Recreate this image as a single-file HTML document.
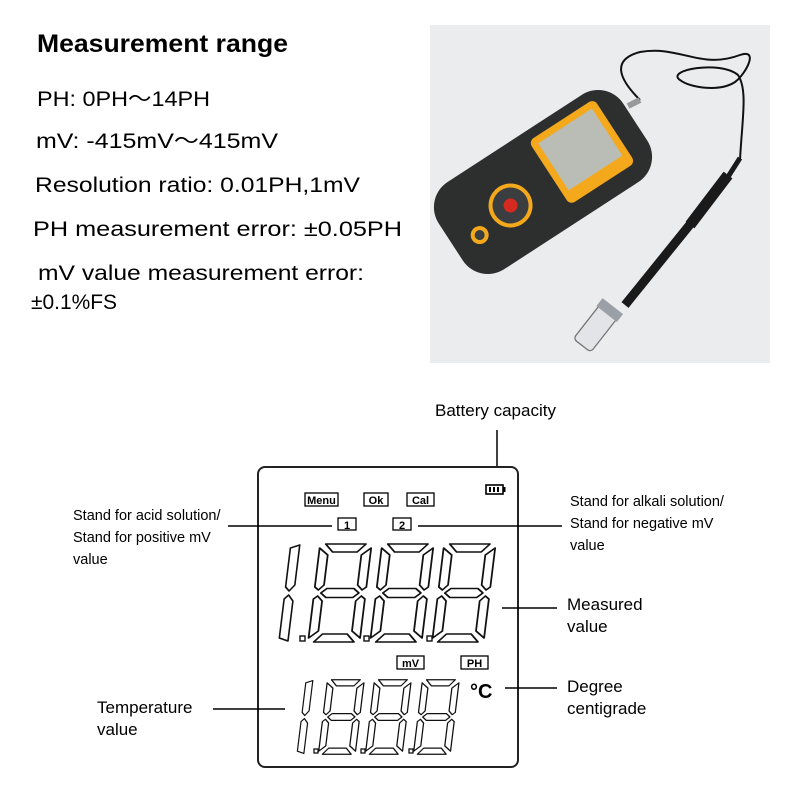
<!DOCTYPE html>
<html><head><meta charset="utf-8"><style>html,body{margin:0;padding:0;background:#fff}svg{display:block}</style></head>
<body>
<svg width="800" height="800" viewBox="0 0 800 800" xmlns="http://www.w3.org/2000/svg" font-family="Liberation Sans, Arial, sans-serif">
<defs>
<g id="dg" fill="#fff" stroke="#111" stroke-width="1.6" stroke-linejoin="round">
<polygon points="7,1 43,1 36,9 14,9"/>
<polygon points="7,99 43,99 36,91 14,91"/>
<polygon points="8,50 13,45.5 37,45.5 42,50 37,54.5 13,54.5"/>
<polygon points="2,5 10,12 10,42 5.5,47 2,44"/>
<polygon points="48,5 40,12 40,42 44.5,47 48,44"/>
<polygon points="2,56 5.5,53 10,58 10,88 2,95"/>
<polygon points="48,56 44.5,53 40,58 40,88 48,95"/>
</g>
<g id="one" fill="#fff" stroke="#111" stroke-width="1.6" stroke-linejoin="round">
<polygon points="3,5 12,2 12,42 7,48 3,44"/>
<polygon points="3,56 7,52 12,58 12,98 3,95"/>
</g>
</defs>

<text x="37" y="52" font-size="25" font-weight="bold" textLength="251" lengthAdjust="spacingAndGlyphs">Measurement range</text>
<g font-size="21" fill="#000">
<text x="37" y="106" textLength="173" lengthAdjust="spacingAndGlyphs">PH: 0PH～14PH</text>
<text x="36" y="148" textLength="242" lengthAdjust="spacingAndGlyphs">mV: -415mV～415mV</text>
<text x="35" y="192" textLength="325" lengthAdjust="spacingAndGlyphs">Resolution ratio: 0.01PH,1mV</text>
<text x="33" y="236" textLength="369" lengthAdjust="spacingAndGlyphs">PH measurement error:  ±0.05PH</text>
<text x="38" y="280" textLength="326" lengthAdjust="spacingAndGlyphs">mV value measurement error:</text>
<text x="31" y="309" textLength="86" lengthAdjust="spacingAndGlyphs">±0.1%FS</text>
</g>

<!-- photo -->
<rect x="430" y="25" width="340" height="338" fill="#ebecee"/>
<path d="M640,100 C620,80 610,60 640,52 C680,45 700,70 740,55 C760,48 745,75 735,82 C720,92 690,88 680,80 C665,70 720,60 738,75 C748,90 742,120 740,160" fill="none" stroke="#111" stroke-width="2"/>
<g transform="translate(543,182) rotate(-33)">
<rect x="-110" y="-52" width="220" height="104" rx="30" fill="#2d2f2f"/>
<rect x="10" y="-42" width="78" height="76" rx="6" fill="#f4a81c"/>
<rect x="17" y="-35" width="64" height="56" fill="#b9bdb5"/>
<circle cx="-40" cy="2" r="22" fill="#f4a81c"/>
<circle cx="-40" cy="2" r="18" fill="#3b3e40"/>
<circle cx="-40" cy="2" r="7" fill="#d42a20"/>
<circle cx="-82" cy="10" r="9" fill="#f4a81c"/>
<circle cx="-82" cy="10" r="5" fill="#3b3e40"/>
</g>
<line x1="640" y1="100" x2="628" y2="106" stroke="#999" stroke-width="6"/>
<line x1="740" y1="158" x2="726" y2="180" stroke="#1a1a1a" stroke-width="5"/>
<line x1="728" y1="175" x2="690" y2="225" stroke="#1a1a1a" stroke-width="11"/>
<line x1="692" y1="222" x2="625" y2="305" stroke="#1a1a1a" stroke-width="9"/>
<g transform="translate(598,325) rotate(38)">
<rect x="-11" y="-22" width="22" height="48" rx="4" fill="#e2e4e8" stroke="#777" stroke-width="1.3"/>
<rect x="-13" y="-24" width="26" height="10" fill="#9aa0a6"/>
</g>

<text x="435" y="416" font-size="17">Battery capacity</text>
<line x1="497" y1="430" x2="497" y2="472" stroke="#000" stroke-width="1.5"/>

<rect x="258" y="467" width="260" height="300" rx="7" fill="#fff" stroke="#222" stroke-width="2"/>
<g font-size="11" font-weight="bold" text-anchor="middle">
<rect x="305" y="493" width="33" height="13" fill="none" stroke="#000" stroke-width="1.3"/><text x="321.5" y="504">Menu</text>
<rect x="364" y="493" width="24" height="13" fill="none" stroke="#000" stroke-width="1.3"/><text x="376" y="504">Ok</text>
<rect x="407" y="493" width="27" height="13" fill="none" stroke="#000" stroke-width="1.3"/><text x="420.5" y="504">Cal</text>
<rect x="338" y="518" width="18" height="12" fill="none" stroke="#000" stroke-width="1.3"/><text x="347" y="529">1</text>
<rect x="393" y="518" width="18" height="12" fill="none" stroke="#000" stroke-width="1.3"/><text x="402" y="529">2</text>
<rect x="397" y="656" width="27" height="13" fill="none" stroke="#000" stroke-width="1.3"/><text x="410.5" y="667">mV</text>
<rect x="461" y="656" width="27" height="13" fill="none" stroke="#000" stroke-width="1.3"/><text x="474.5" y="667">PH</text>
</g>
<rect x="486" y="485" width="17" height="9" fill="none" stroke="#000" stroke-width="1.6"/>
<rect x="503" y="487" width="2.5" height="5" fill="#000"/>
<rect x="489" y="487" width="2" height="5" fill="#000"/><rect x="493" y="487" width="2" height="5" fill="#000"/><rect x="497" y="487" width="2" height="5" fill="#000"/>

<g transform="translate(288,543) skewX(-7)"><use href="#one"/></g>
<g transform="translate(318,543) skewX(-7) scale(1.12,1)"><use href="#dg"/></g>
<g transform="translate(380,543) skewX(-7) scale(1.12,1)"><use href="#dg"/></g>
<g transform="translate(442,543) skewX(-7) scale(1.12,1)"><use href="#dg"/></g>
<g fill="#fff" stroke="#111" stroke-width="1.4">
<rect x="300" y="636" width="5" height="5"/><rect x="364" y="636" width="5" height="5"/><rect x="427" y="636" width="5" height="5"/>
</g>
<g transform="translate(304,679) skewX(-7) scale(0.75,0.76)"><use href="#one"/></g>
<g transform="translate(326,679) skewX(-7) scale(0.8,0.76)"><use href="#dg"/></g>
<g transform="translate(373,679) skewX(-7) scale(0.8,0.76)"><use href="#dg"/></g>
<g transform="translate(421,679) skewX(-7) scale(0.8,0.76)"><use href="#dg"/></g>
<g fill="#fff" stroke="#111" stroke-width="1.3">
<rect x="314" y="749" width="4" height="4"/><rect x="361" y="749" width="4" height="4"/><rect x="409" y="749" width="4" height="4"/>
</g>
<text x="470" y="698" font-size="20" font-weight="bold">°C</text>

<g stroke="#000" stroke-width="1.5">
<line x1="228" y1="526" x2="332" y2="526"/>
<line x1="418" y1="526" x2="562" y2="526"/>
<line x1="502" y1="608" x2="557" y2="608"/>
<line x1="505" y1="688" x2="557" y2="688"/>
<line x1="213" y1="709" x2="285" y2="709"/>
</g>
<g font-size="14.5">
<text x="73" y="520">Stand for acid solution/</text>
<text x="73" y="542">Stand for positive mV</text>
<text x="73" y="564">value</text>
<text x="570" y="506">Stand for alkali solution/</text>
<text x="570" y="528">Stand for negative mV</text>
<text x="570" y="550">value</text>
</g>
<g font-size="17">
<text x="567" y="610">Measured</text>
<text x="567" y="632">value</text>
<text x="567" y="692">Degree</text>
<text x="567" y="714">centigrade</text>
<text x="97" y="713">Temperature</text>
<text x="97" y="735">value</text>
</g>
</svg>
</body></html>
